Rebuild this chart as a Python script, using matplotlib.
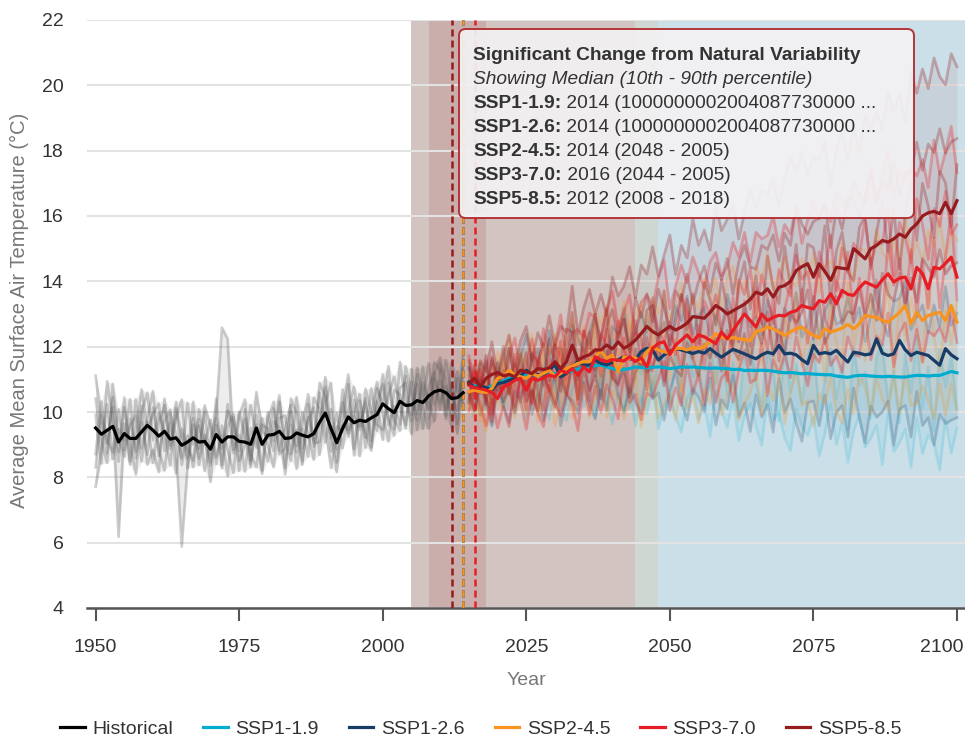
import numpy as np
import matplotlib
matplotlib.use("Agg")
import matplotlib.pyplot as plt
from matplotlib.patches import FancyBboxPatch
from matplotlib.lines import Line2D
from matplotlib.transforms import ScaledTranslation

# ---------------------------------------------------------------- data
hist_years = list(range(1950, 2015))
proj_years = list(range(2015, 2101))

hist_median = [
    9.51, 9.32, 9.44, 9.56, 9.08, 9.34, 9.19, 9.19, 9.39, 9.59,
    9.44, 9.26, 9.41, 9.17, 9.21, 8.98, 9.08, 9.21, 9.08, 9.10,
    8.86, 9.31, 9.08, 9.24, 9.24, 9.10, 9.08, 9.01, 9.51, 9.01,
    9.29, 9.31, 9.41, 9.19, 9.21, 9.36, 9.29, 9.24, 9.34, 9.69,
    9.97, 9.49, 9.06, 9.49, 9.85, 9.67, 9.75, 9.71, 9.82, 9.92,
    10.25, 10.10, 9.98, 10.33, 10.20, 10.22, 10.35, 10.29, 10.49, 10.62,
    10.67, 10.59, 10.41, 10.44, 10.59]

ssp119_median = [
    10.87, 10.80, 10.77, 10.72, 10.80, 10.87, 10.95, 11.03, 11.05, 11.10,
    11.13, 11.15, 11.13, 11.08, 11.18, 11.18, 11.20, 11.23, 11.25, 11.31,
    11.35, 11.38, 11.42, 11.44, 11.38, 11.33, 11.28, 11.30, 11.33, 11.38,
    11.36, 11.35, 11.37, 11.38, 11.36, 11.33, 11.35, 11.38, 11.37, 11.38,
    11.36, 11.35, 11.34, 11.35, 11.33, 11.33, 11.30, 11.31, 11.27, 11.28,
    11.27, 11.28, 11.27, 11.25, 11.22, 11.20, 11.21, 11.19, 11.17, 11.18,
    11.16, 11.15, 11.14, 11.14, 11.10, 11.08, 11.06, 11.10, 11.12, 11.12,
    11.10, 11.09, 11.08, 11.09, 11.08, 11.07, 11.07, 11.10, 11.12, 11.12,
    11.10, 11.12, 11.12, 11.18, 11.24, 11.20]

ssp126_median = [
    10.92, 10.72, 10.80, 10.75, 10.67, 10.87, 10.90, 10.97, 11.03, 11.10,
    11.28, 11.13, 11.15, 11.13, 11.30, 11.44, 11.08, 11.18, 11.35, 11.56,
    11.44, 11.44, 11.59, 11.49, 11.44, 11.52, 11.60, 11.69, 11.64, 11.59,
    11.85, 11.95, 11.90, 11.59, 11.75, 11.85, 11.95, 11.90, 11.85, 11.79,
    11.85, 11.80, 11.94, 11.80, 11.68, 11.80, 11.92, 11.85, 11.78, 11.70,
    11.63, 11.75, 11.83, 11.78, 12.04, 11.78, 11.80, 11.75, 11.60, 11.48,
    12.04, 11.78, 11.82, 11.78, 11.89, 11.70, 11.53, 11.83, 11.80, 11.75,
    11.78, 12.24, 11.80, 11.73, 11.78, 12.19, 11.90, 11.73, 11.83, 11.78,
    11.73, 11.58, 11.43, 11.94, 11.75, 11.63]

ssp245_median = [
    10.62, 10.67, 10.62, 10.60, 10.72, 11.03, 11.10, 11.28, 11.13, 11.08,
    11.03, 11.18, 11.10, 11.18, 11.28, 11.08, 11.18, 11.33, 11.40, 11.49,
    11.54, 11.54, 11.69, 11.87, 11.64, 11.74, 11.23, 11.69, 11.64, 11.66,
    11.54, 11.85, 12.00, 11.90, 11.85, 11.79, 11.95, 11.95, 11.90, 11.97,
    11.95, 12.00, 12.15, 12.40, 12.30, 12.24, 12.28, 12.24, 12.22, 12.19,
    12.47, 12.50, 12.60, 12.55, 12.45, 12.34, 12.45, 12.55, 12.60, 12.45,
    12.35, 12.26, 12.55, 12.45, 12.50, 12.57, 12.68, 12.55, 12.70, 12.96,
    12.92, 12.90, 12.80, 12.75, 12.90, 13.05, 13.26, 12.70, 13.06, 12.80,
    12.96, 13.00, 13.06, 12.80, 13.26, 12.75]

ssp370_median = [
    10.82, 10.74, 10.72, 10.67, 10.60, 10.41, 10.77, 10.85, 10.97, 11.03,
    10.67, 11.03, 10.97, 11.05, 11.13, 11.08, 11.28, 11.20, 11.33, 11.13,
    11.38, 11.23, 11.69, 11.59, 11.54, 11.60, 11.59, 11.56, 11.69, 11.54,
    11.66, 11.38, 11.95, 12.10, 12.15, 11.76, 12.05, 12.20, 12.36, 12.15,
    12.36, 12.30, 12.20, 12.09, 12.45, 12.24, 12.50, 12.75, 13.00, 12.80,
    12.60, 13.00, 12.80, 12.90, 12.96, 12.94, 13.05, 13.10, 13.26, 13.20,
    13.16, 13.41, 13.36, 13.62, 13.31, 13.72, 13.60, 13.57, 13.80, 13.98,
    13.90, 13.82, 14.05, 14.23, 13.98, 14.10, 14.13, 13.77, 14.43, 14.23,
    13.77, 14.43, 14.38, 14.55, 14.74, 14.13]

ssp585_median = [
    10.87, 11.03, 10.77, 11.03, 11.15, 11.21, 11.11, 11.15, 11.08, 11.28,
    11.22, 11.18, 11.33, 11.30, 11.35, 11.54, 11.33, 11.54, 12.05, 11.59,
    11.69, 11.75, 11.90, 11.90, 12.05, 11.93, 12.15, 11.95, 12.05, 12.20,
    12.40, 12.62, 12.46, 12.36, 12.50, 12.62, 12.51, 12.60, 12.72, 12.92,
    12.90, 12.87, 13.05, 13.26, 13.15, 13.00, 13.10, 13.20, 13.30, 13.45,
    13.67, 13.60, 13.77, 13.52, 13.82, 13.87, 14.00, 14.33, 14.45, 14.54,
    14.13, 14.54, 14.30, 14.03, 14.43, 14.40, 14.38, 15.00, 14.85, 14.69,
    15.00, 15.10, 15.25, 15.20, 15.30, 15.45, 15.35, 15.60, 15.76, 16.00,
    16.10, 16.14, 16.07, 16.42, 16.07, 16.47]

# individual model runs, as offsets from the median in tenths of a degree
hist_runs = [
    [-18, -5, 8, -10, 4, -2, 12, -6, 3, -9, 7, -4, -12, 5, -3, -31, -8, 6, -2, 9,
     -5, 3, -7, 10, -4, 2, -9, 5, -6, 8, -3, -10, 4, 7, -5, 1, -8, 6, -2, 9,
     -4, -12, 3, 8, -6, 2, -3, 7, -9, 4, 6, -5, 2, -7, 9, -3, 5, -8, 3, 6,
     -4, 2, -6, 8, -2],
    [16, 4, -7, 9, -3, 11, -8, 2, 13, -1, 5, 10, -6, 8, 1, -4, 12, -2, 7, -9,
     3, 6, 35, 30, -5, 9, 2, -7, 11, 4, -1, 8, -6, 3, 10, -4, 7, 1, -8, 12,
     5, -3, 9, -6, 2, 11, -2, 6, -7, 8, 0, 13, -5, 4, 7, -9, 10, 3, -4, 9,
     6, -7, 11, 2, -3],
    [-8, 10, -4, 6, -29, 3, -7, 12, -5, 1, -10, 4, 8, -3, 11, -6, 2, -9, 5, -1,
     9, -7, 2, -12, 6, -3, 10, -5, 1, -8, 7, -2, 11, -9, 4, -6, 3, 13, -4, 0,
     8, -7, 5, -1, 10, -10, 2, -5, 9, -3, -8, 4, 11, -2, -6, 7, -9, 1, 10, -4,
     3, -8, 5, -11, 7],
    [4, -9, 15, 2, -6, 8, -1, -11, 6, 10, -3, 7, 0, -8, 9, 3, -5, 11, -7, 2,
     -10, 5, -2, 8, 4, -9, 7, -3, -12, 6, 2, -5, 9, -1, -7, 11, -4, 5, 8, -10,
     3, 14, -6, 1, -4, 7, -11, 10, 2, -5, 9, -3, -7, 12, 1, -5, 8, -2, -10, 4,
     -6, 10, 1, -4, 9],
    [-12, 6, -3, -8, 10, -5, 4, 7, -9, 2, 12, -6, 3, 9, -11, 5, -2, -7, 10, 1,
     -4, 11, -8, 3, 7, -6, -1, 12, -3, -9, 5, 10, -7, -3, 8, -11, 2, -6, 11, 4,
     -9, 6, -2, 12, -5, 3, 8, -8, 1, 10, -3, -10, 7, 2, -7, 11, -4, 6, -1, -9,
     8, 4, -9, 6, -5],
    [9, -2, -10, 13, 1, -7, 6, -4, 8, -12, -6, -11, 10, -2, 6, 14, -8, 4, -5, 11,
     7, -9, 5, -4, -11, 8, 13, -6, 4, 1, -8, 4, 1, -11, 12, 6, -9, 10, -3, -6,
     11, -1, -9, 5, 13, -8, 6, -3, -10, 4, -11, 8, -2, -9, 12, 3, -6, 11, -7, 5,
     10, -5, 4, -8, 12],
]

ssp119_runs = [
    [5, -6, 2, 8, -4, 7, -9, 3, -2, 9, -5, 6, -8, 1, 10, -3, 4, -10, 7, -1,
     8, -7, 2, -11, 5, 9, -4, 1, -12, 6, -2, 10, -9, 3, 7, -13, 4, -6, 11, -3,
     0, -10, 8, -5, 12, -8, 2, -14, 6, 9, -4, -11, 7, 1, -15, 10, -6, 3, -9, 5,
     11, -12, -2, 8, -7, 4, -16, 9, -3, 1, -13, 6, 10, -8, 2, -14, 7, -5, 12, -10,
     3, -17, 8, -4, 5, -11],
    [-3, -10, 1, -6, -12, -2, -8, 0, -11, -5, -13, -7, -1, -9, -14, -4, -10, -15, -6, -2,
     -12, -8, -16, -3, -11, -17, -7, -13, -5, -18, -9, -14, -4, -19, -12, -8, -15, -20, -10, -6,
     -16, -11, -21, -7, -13, -18, -9, -22, -14, -10, -17, -23, -8, -15, -12, -20, -24, -11, -16, -19,
     -13, -25, -18, -9, -21, -14, -26, -17, -12, -22, -19, -15, -27, -11, -23, -20, -16, -28, -13, -24,
     -18, -21, -29, -14, -25, -17],
]

ssp126_runs = [
    [4, -3, 7, 1, 9, -2, 5, 10, 0, 6, 11, 3, 8, -1, 12, 5, 9, 2, 13, 7,
     4, 10, 14, 6, 1, 11, 8, 15, 3, 9, 12, 5, 16, 7, 10, 2, 13, 9, 17, 6,
     11, 14, 4, 12, 8, 18, 10, 3, 15, 9, 13, 6, 16, 11, 1, 14, 10, 19, 7, 12,
     15, 5, 13, 17, 8, 11, 20, 9, 14, 4, 12, 18, 10, 6, 16, 13, 21, 8, 11, 15,
     7, 17, 12, 19, 9, 14],
    [-6, 2, -9, -3, -11, 0, -7, -13, -4, -8, -1, -12, -6, -14, -9, -3, -15, -7, -10, -16,
     -5, -12, -18, -8, -14, -2, -11, -17, -9, -13, -19, -6, -15, -10, -20, -12, -7, -16, -21, -11,
     -14, -18, -9, -22, -13, -17, -8, -20, -15, -23, -11, -19, -16, -24, -10, -18, -14, -21, -25, -12,
     -17, -22, -13, -26, -19, -15, -23, -11, -20, -27, -16, -24, -18, -14, -28, -21, -17, -25, -12, -22,
     -19, -26, -15, -23, -20, -18],
]

ssp245_runs = [
    [6, -2, 9, 3, -5, 8, 1, 11, -3, 7, 4, 12, -1, 9, 5, 13, 2, 10, 15, 6,
     11, 3, 14, 8, 16, 5, 12, 17, 9, 13, 18, 7, 15, 11, 19, 10, 14, 20, 8, 16,
     12, 21, 13, 17, 9, 19, 22, 14, 18, 11, 20, 15, 23, 12, 18, 24, 16, 13, 21, 17,
     25, 14, 19, 22, 16, 26, 18, 15, 23, 20, 17, 27, 21, 19, 24, 16, 28, 20, 22, 18,
     26, 21, 29, 19, 23, 25],
    [-5, 4, -9, 2, 7, -3, 5, -7, 0, 8, -4, 3, -10, 6, -1, -8, 9, -5, 2, -11,
     5, -2, 10, -6, 1, -9, 7, -3, 11, -7, 2, -12, 6, -4, 9, -8, 3, -13, 8, -1,
     -10, 4, -6, 12, -3, -14, 7, -9, 1, -5, 10, -11, 3, -7, -15, 6, -2, 11, -12, 0,
     -8, 5, -16, 9, -4, -10, 13, -6, 2, -14, 7, -9, -3, 12, -17, 4, -11, 8, -5, -13,
     10, -7, -18, 3, -12, 6],
    [-2, -9, -4, -12, 1, -7, -10, -3, -13, -6, -11, -1, -14, -8, -5, -15, -9, -2, -16, -10,
     -7, -17, -12, -4, -18, -11, -8, -19, -13, -6, -20, -14, -9, -21, -16, -12, -22, -10, -18, -15,
     -23, -13, -19, -11, -24, -17, -14, -25, -20, -16, -12, -26, -18, -22, -15, -27, -19, -13, -24, -21,
     -28, -17, -23, -14, -25, -29, -20, -26, -16, -22, -30, -19, -24, -27, -18, -31, -21, -25, -28, -20,
     -26, -32, -22, -29, -24, -27],
]

ssp370_runs = [
    [9, 1, 6, -3, 11, 4, -1, 8, 13, 2, 7, 12, 3, 15, 6, 10, 17, 4, 11, 14,
     9, 18, 12, 6, 16, 21, 10, 15, 19, 8, 17, 22, 13, 20, 25, 14, 18, 23, 16, 26,
     19, 15, 24, 28, 17, 22, 27, 20, 25, 18, 29, 23, 26, 31, 21, 28, 24, 32, 19, 27,
     33, 25, 30, 22, 34, 28, 26, 35, 29, 24, 36, 27, 32, 38, 26, 33, 30, 37, 28, 35,
     31, 39, 29, 34, 40, 32],
    [-4, 6, 0, 9, -7, 2, 5, -3, 8, -6, 3, -8, 7, 1, -5, 10, 4, -2, 6, -9,
     11, 2, -4, 8, 5, -6, 12, 3, -1, 9, 6, -7, 13, 4, 0, 10, -3, 14, 7, 2,
     -5, 11, 8, 15, 1, 9, -4, 13, 6, 16, 3, 12, 7, -2, 14, 10, 5, 17, 8, 11,
     0, 15, 9, 18, 4, 13, 7, 16, 10, 19, 6, 14, 11, 20, 2, 17, 12, 8, 21, 15,
     9, 18, 13, 22, 7, 16],
    [3, -7, 5, -4, -9, 7, -2, 4, -8, 1, -6, 8, -3, -10, 5, -1, 9, -7, 2, -4,
     6, -9, 3, -5, 10, -2, -8, 7, -11, 4, -3, 9, -7, 2, -12, 6, 0, -9, 11, -5,
     3, -10, 8, -4, 1, -13, 10, -6, 4, -8, 12, -3, -9, 6, -14, 2, 9, -7, 5, -11,
     1, 11, -5, -12, 7, -2, 13, -8, 3, -10, 8, -4, -13, 10, -1, 6, -9, 12, -15, 4,
     -6, 9, -12, 2, 14, -7],
    [-8, 0, -5, -11, -2, -9, -6, -13, -1, -7, -12, -4, -10, -15, -3, -8, -14, -6, -11, -17,
     -5, -13, -9, -16, -7, -12, -18, -4, -14, -10, -19, -8, -15, -11, -6, -17, -13, -20, -9, -16,
     -12, -21, -7, -18, -14, -10, -22, -15, -11, -19, -16, -9, -23, -13, -18, -12, -20, -8, -17, -24,
     -14, -19, -11, -22, -16, -25, -13, -18, -21, -10, -23, -15, -20, -12, -26, -17, -14, -22, -19, -27,
     -13, -21, -18, -24, -16, -20],
]

ssp585_runs = [
    [5, -3, 8, 2, 10, -2, 6, 12, 3, 9, 14, 4, 11, 7, 16, 5, 13, 9, 18, 8,
     15, 20, 11, 17, 9, 22, 14, 19, 24, 13, 21, 16, 26, 18, 23, 28, 17, 25, 20, 30,
     22, 27, 19, 31, 24, 29, 33, 21, 28, 34, 26, 32, 29, 36, 25, 33, 38, 30, 35, 27,
     37, 32, 40, 29, 36, 42, 33, 38, 31, 44, 36, 41, 34, 46, 39, 43, 35, 48, 40, 45,
     38, 47, 42, 36, 49, 41],
    [-6, 4, -2, 7, -9, 3, -4, 8, -1, 5, -7, 6, 2, -5, 9, 0, -3, 10, 4, -6,
     8, 2, 11, -4, 6, 12, 1, 9, -2, 13, 5, 10, 3, 14, 7, -1, 12, 8, 15, 4,
     11, 16, 6, 13, 9, 17, 5, 14, 18, 10, 7, 15, 12, 19, 8, 16, 11, 20, 13, 9,
     17, 14, 21, 10, 18, 12, 22, 15, 11, 19, 23, 13, 18, 16, 24, 12, 20, 17, 25, 14,
     21, 18, 26, 15, 22, 19],
    [7, -5, 3, -8, 5, -2, 9, -6, 4, -3, 6, -9, 2, 8, -4, 5, -7, 3, 10, -5,
     -2, 7, -8, 4, 11, -6, 2, 9, -3, 6, -10, 5, 8, -4, 12, -7, 3, 10, -2, 7,
     -8, 11, 4, -6, 9, 2, -11, 7, 13, -3, 5, -9, 10, 3, -5, 12, -2, 8, -12, 6,
     9, -4, 14, -7, 5, 11, -1, -10, 8, 13, -6, 4, 12, -3, 9, -11, 7, 15, -5, 10,
     2, -8, 13, 6, -4, 11],
    [-3, -10, 2, -6, -12, 0, -8, -4, -11, -2, -9, -5, -13, -1, -7, -14, -3, -10, -6, -12,
     -4, -11, -8, -15, -2, -9, -13, -6, -16, -10, -7, -14, -11, -4, -17, -9, -12, -15, -6, -13,
     -18, -8, -14, -10, -19, -5, -12, -16, -9, -20, -11, -15, -7, -18, -13, -21, -10, -16, -14, -8,
     -19, -12, -22, -15, -9, -17, -13, -20, -11, -18, -14, -23, -10, -16, -19, -12, -21, -15, -24, -13,
     -17, -20, -11, -22, -16, -19],
]

scenarios = ["SSP1-1.9", "SSP1-2.6", "SSP2-4.5", "SSP3-7.0", "SSP5-8.5"]
medians = [ssp119_median, ssp126_median, ssp245_median, ssp370_median, ssp585_median]
runs = [ssp119_runs, ssp126_runs, ssp245_runs, ssp370_runs, ssp585_runs]
colors = ["#00adcf", "#173c66", "#f79420", "#e71d25", "#951b1e"]

# year of significant change (median) and its 10th-90th percentile window
sig_year = [2014, 2014, 2014, 2016, 2012]
sig_start = [2005, 2005, 2005, 2005, 2008]
sig_end = [2110, 2110, 2048, 2044, 2018]
sig_text = ["2014 (1000000002004087730000 ...",
            "2014 (1000000002004087730000 ...",
            "2014 (2048 - 2005)",
            "2016 (2044 - 2005)",
            "2012 (2008 - 2018)"]
band_alpha = [0.10, 0.12, 0.10, 0.10, 0.13]
run_alpha = [0.16, 0.22, 0.24, 0.30, 0.30]

for m in medians:
    assert len(m) == len(proj_years)
for group in runs:
    for r in group:
        assert len(r) == len(proj_years)
for r in hist_runs:
    assert len(r) == len(hist_years)

# ---------------------------------------------------------------- figure
plt.rcParams["font.family"] = ["Liberation Sans", "DejaVu Sans"]
W, H = 965, 738
fig = plt.figure(figsize=(W / 100, H / 100), dpi=100)
ax = fig.add_axes([87 / W, 1 - 608 / H, (W - 87) / W, (608 - 20) / H])

# significance windows
for s in range(len(scenarios)):
    ax.axvspan(sig_start[s], sig_end[s], color=colors[s], alpha=band_alpha[s],
               lw=0, zorder=0.2)

# model runs, with a faint fill over their spread
hist_med = np.array(hist_median)
hist_all = np.array([hist_med + np.array(r) / 10 for r in hist_runs])
ax.fill_between(hist_years, hist_all.min(axis=0), hist_all.max(axis=0),
                color="#555555", alpha=0.10, lw=0, zorder=1.8)
for line in hist_all:
    ax.plot(hist_years, line, color="#555555", alpha=0.28, lw=2, zorder=2)
for s in range(len(scenarios)):
    med = np.array(medians[s])
    allr = np.array([med + np.array(r) / 10 for r in runs[s]])
    ax.fill_between(proj_years, allr.min(axis=0), allr.max(axis=0),
                    color=colors[s], alpha=0.07, lw=0, zorder=1.8)
    for line in allr:
        ax.plot(proj_years, line, color=colors[s], alpha=run_alpha[s],
                lw=2, zorder=2)

# year of significant change
for s in range(len(scenarios)):
    ax.axvline(sig_year[s], color=colors[s], lw=1.8, ls=(0, (2.8, 1.6)),
               zorder=3.5)

# medians
ax.plot(hist_years, hist_median, color="black", lw=2.3, zorder=4)
for s in range(len(scenarios)):
    ax.plot(proj_years, medians[s], color=colors[s], lw=2.3, zorder=4)

ax.set_xlim(1948.5, 2101.4)
ax.set_ylim(4, 22)
ax.set_xticks(range(1950, 2101, 25))
ax.set_yticks(range(4, 23, 2))
ax.yaxis.grid(True, color="#e3e3e3", lw=1.5)
ax.set_axisbelow(True)
for side in ["left", "right", "top"]:
    ax.spines[side].set_visible(False)
ax.spines["bottom"].set_color("#555555")
ax.spines["bottom"].set_linewidth(1.8)
ax.tick_params(axis="x", length=9, width=1.5, color="#555555", pad=13,
               labelsize=14, labelcolor="#333333")
ax.tick_params(axis="y", length=0, pad=17, labelsize=14, labelcolor="#333333")
last = ax.get_xticklabels()[-1]
last.set_horizontalalignment("right")
last.set_transform(last.get_transform() + ScaledTranslation(0.07, 0, fig.dpi_scale_trans))
ax.set_xlabel("Year", fontsize=14, color="#777777", labelpad=12)
fig.text(19.5 / W, 1 - 310 / H, "Average Mean Surface Air Temperature (°C)",
         rotation=90, ha="center", va="center", fontsize=14.5, color="#777777")

# info box
bx0, by0, bx1, by1 = 459, 29, 914, 218
box = FancyBboxPatch((bx0 / W, 1 - by1 / H), (bx1 - bx0) / W, (by1 - by0) / H,
                     boxstyle="round,pad=0,rounding_size=0.007",
                     mutation_aspect=W / H, transform=fig.transFigure,
                     facecolor="#f3f1f3", edgecolor="#b0282c", lw=1.4,
                     alpha=0.93, zorder=10)
fig.add_artist(box)
tx = 473 / W
fs = 13.8
fig.text(tx, 1 - 60 / H, "Significant Change from Natural Variability",
         fontsize=fs, fontweight="bold", color="#333333", va="baseline", zorder=11)
fig.text(tx, 1 - 84 / H, "Showing Median (10th - 90th percentile)",
         fontsize=fs, style="italic", color="#333333", va="baseline", zorder=11)
for s in range(len(scenarios)):
    y = 1 - (107.5 + 24.2 * s) / H
    lab = fig.text(tx, y, scenarios[s] + ":", fontsize=fs, fontweight="bold",
                   color="#333333", va="baseline", zorder=11)
    fig.add_artist(plt.Annotation(" " + sig_text[s], xy=(1, 0), xycoords=lab,
                                  fontsize=fs, color="#333333", va="bottom",
                                  ha="left", zorder=11))

# legend
handles = [Line2D([], [], color="black", lw=2.3)]
handles += [Line2D([], [], color=c, lw=2.3) for c in colors]
fig.legend(handles, ["Historical"] + scenarios, loc="center", ncol=6,
           bbox_to_anchor=(481 / W, 1 - 729 / H), frameon=False, fontsize=14,
           handlelength=1.25, handletextpad=0.4, columnspacing=1.55,
           labelcolor="#333333")

fig.savefig("out.png", dpi=100)
